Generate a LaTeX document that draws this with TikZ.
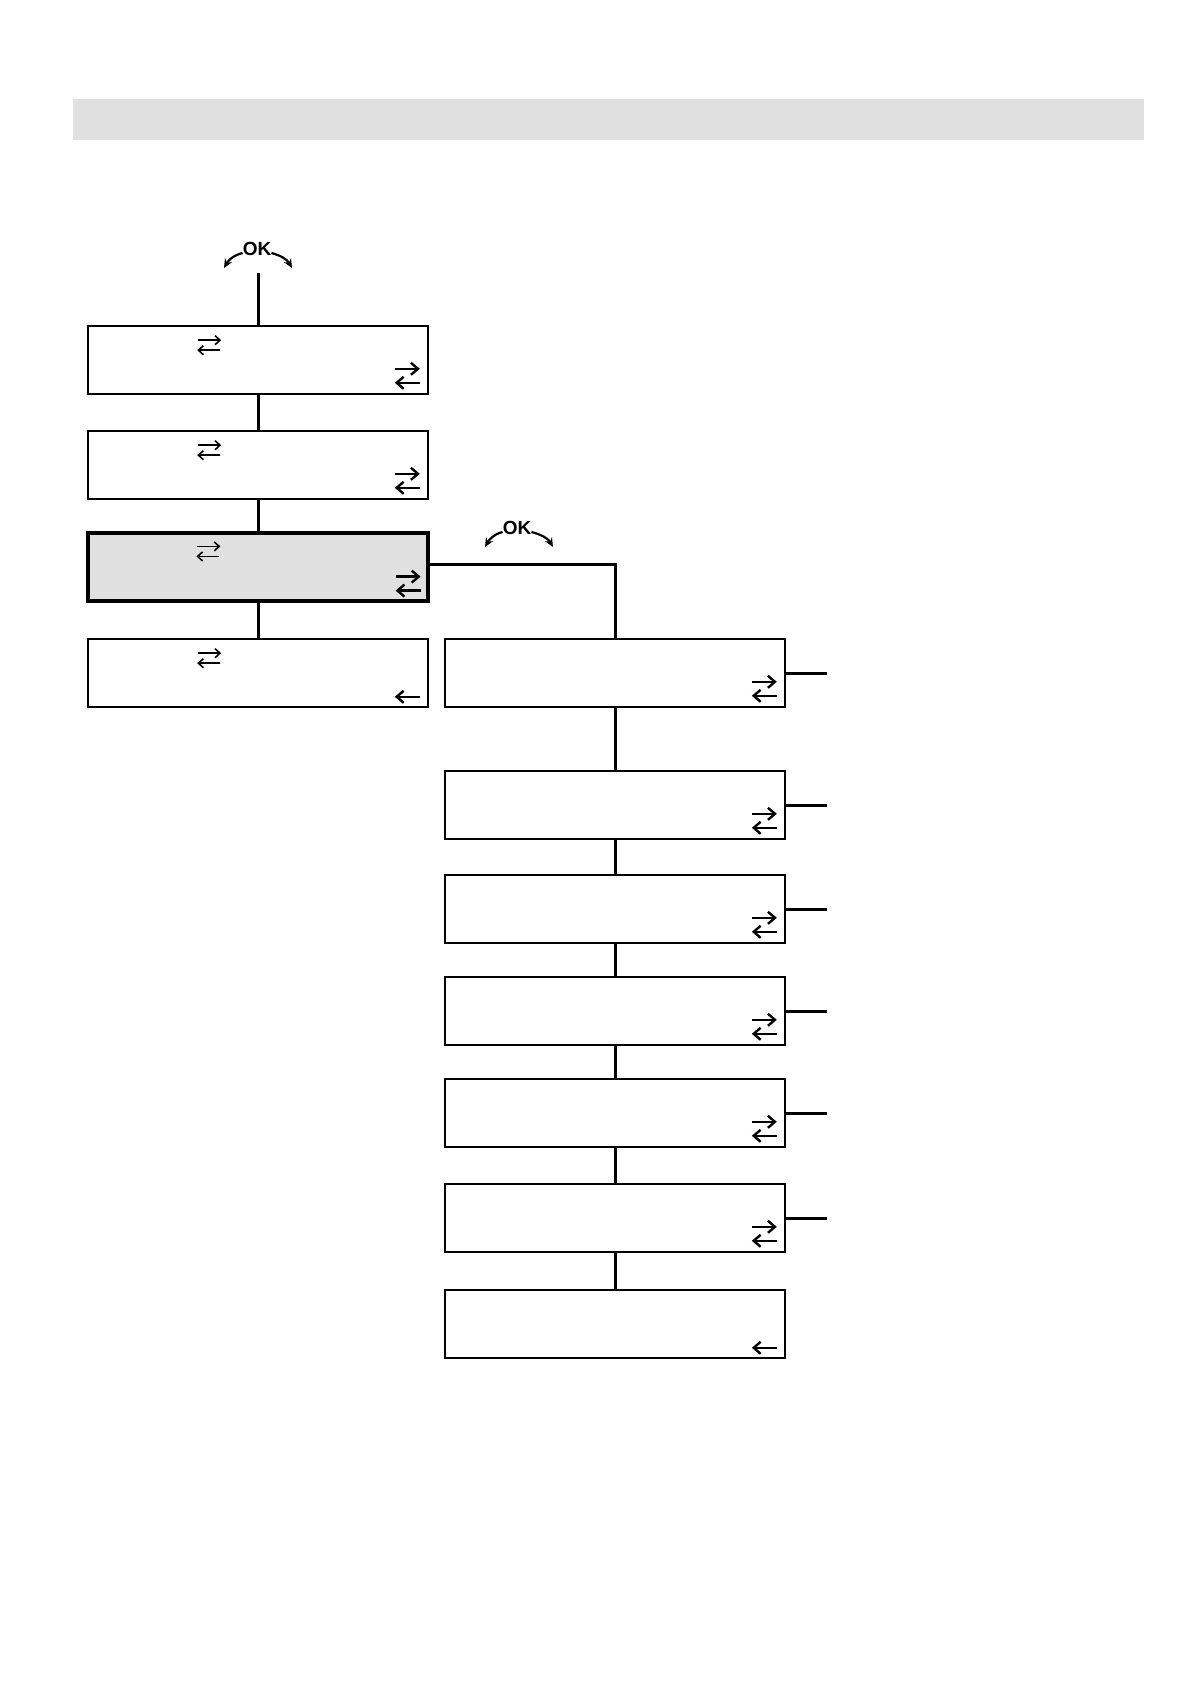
\documentclass[tikz,border=0pt]{standalone}
\usepackage{fontspec}
\usetikzlibrary{arrows.meta}
\newfontfamily\okfont{Liberation Sans}
\definecolor{panelgray}{HTML}{E0E0E0}

\begin{document}
\begin{tikzpicture}[x=1pt,y=-1pt,
    menu/.style={draw,line width=1.6pt,minimum width=340pt,minimum height=68pt,inner sep=0pt},
    active/.style={menu,line width=3.2pt,fill=panelgray},
    link/.style={line width=3pt},
    oklabel/.style={font=\okfont\bfseries\fontsize{19}{19}\selectfont,inner sep=0pt},
    okcurve/.style={line width=2.2pt,-{Stealth[length=9pt,width=8pt]}},
    navsmall/.style={line width=1.6pt,-{Straight Barb[length=5pt,width=9pt]}},
    navbig/.style={line width=2.4pt,-{Straight Barb[length=7pt,width=12pt]}}]
    \useasboundingbox (0,0) rectangle (1190,1684);
    % Title bar
    \fill[panelgray] (73,99) rectangle (1144,140);

    % Left column
    \node[menu] (m1) at (258,360) {};
    \node[menu] (m2) at (258,465) {};
    \node[active] (m3) at (258,567) {};
    \node[menu] (m4) at (258,673) {};
    % Right column
    \foreach \i/\y in {1/673,2/805,3/909,4/1011,5/1113,6/1218,7/1324}
        \node[menu] (r\i) at (615,\y) {};

    % Arrow marks
    \foreach \n in {m1,m2,m3,m4} {
        \draw[navsmall] ([shift={(111,15)}]\n.north west) -- ++(23,0);
        \draw[navsmall] ([shift={(133,25)}]\n.north west) -- ++(-23,0);
    }
    \foreach \n in {m1,m2,m3,r1,r2,r3,r4,r5,r6} {
        \draw[navbig] ([shift={(-34,-26)}]\n.south east) -- ++(25,0);
        \draw[navbig] ([shift={(-9,-12)}]\n.south east) -- ++(-25,0);
    }
    \foreach \n in {m4,r7}
        \draw[navbig] ([shift={(-9,-11)}]\n.south east) -- ++(-25,0);

    % OK marks
    \node[oklabel] (ok1) at (257,249) {OK};
    \coordinate (ok1l) at (224,268);
    \coordinate (ok1r) at (292,268);
    \coordinate (ok1foot) at (258,273);
    \draw[okcurve] ([yshift=-4]ok1.west) to[out=195,in=60] (ok1l);
    \draw[okcurve] ([yshift=-4]ok1.east) to[out=-15,in=120] (ok1r);
    \node[oklabel] (ok2) at (517,528) {OK};
    \coordinate (ok2l) at (485,547);
    \coordinate (ok2r) at (553,547);
    \draw[okcurve] ([yshift=-4]ok2.west) to[out=195,in=60] (ok2l);
    \draw[okcurve] ([yshift=-4]ok2.east) to[out=-15,in=120] (ok2r);

    % Connectors
    \draw[link] (ok1foot) -- (m1.north);
    \draw[link] (m1) -- (m2);
    \draw[link] (m2) -- (m3);
    \draw[link] (m3) -- (m4);
    \draw[link] ([yshift=3]m3.east) -| (r1.north);
    \foreach \i [count=\j from 2] in {1,...,6}
        \draw[link] (r\i) -- (r\j);
    \foreach \i in {1,...,6} {
        \coordinate (s\i) at ([xshift=41]r\i.east);
        \draw[link] (r\i.east) -- (s\i);
    }
\end{tikzpicture}
\end{document}
